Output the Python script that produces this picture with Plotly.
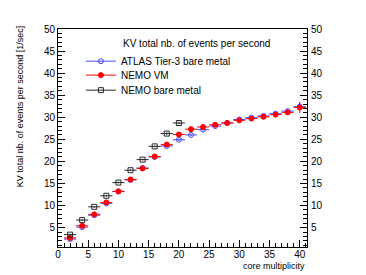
import plotly.graph_objects as go

x_atlas = [2, 4, 6, 8, 10, 12, 14, 16, 18, 20, 22, 24, 26, 28, 30, 32, 34, 36, 38, 40]
y_atlas = [2.4, 5.1, 7.8, 10.5, 13.2, 15.8, 18.5, 21.0, 23.5, 24.9, 26.0, 27.2, 28.0, 28.7, 29.5, 29.9, 30.3, 30.8, 31.4, 32.4]
ey_atlas = [0.2, 0.2, 0.2, 0.2, 0.2, 0.2, 0.2, 0.2, 0.3, 0.3, 0.3, 0.3, 0.3, 0.3, 0.3, 0.3, 0.4, 0.4, 0.5, 0.8]

x_vm = [2, 4, 6, 8, 10, 12, 14, 16, 18, 20, 22, 24, 26, 28, 30, 32, 34, 36, 38, 40]
y_vm = [2.65, 5.4, 8.0, 10.7, 13.2, 15.9, 18.4, 21.1, 23.8, 26.1, 27.3, 27.8, 28.3, 28.7, 29.3, 29.7, 30.1, 30.6, 31.1, 32.2]
ey_vm = [0.2, 0.2, 0.2, 0.2, 0.2, 0.2, 0.2, 0.2, 0.3, 0.3, 0.3, 0.3, 0.3, 0.3, 0.4, 0.4, 0.4, 0.5, 0.6, 1.3]

x_bare = [2, 4, 6, 8, 10, 12, 14, 16, 18, 20]
y_bare = [3.4, 6.7, 9.7, 12.2, 15.2, 18.0, 20.4, 23.4, 26.3, 28.7]
ey_bare = [0.2, 0.2, 0.2, 0.2, 0.2, 0.2, 0.2, 0.2, 0.3, 0.3]

bin_half_width = 1.0

names = ["ATLAS Tier-3 bare metal", "NEMO VM", "NEMO bare metal"]
legend_header = "KV total nb. of events per second"
x_title = "core multiplicity"
y_title = "KV total nb. of events per second [1/sec]"

BLUE = "rgb(70,70,255)"
RED = "rgb(255,0,0)"
BLACK = "rgb(40,40,40)"
FONT = "Liberation Sans, Arial, sans-serif"

series = [
    (x_atlas, y_atlas, ey_atlas, BLUE, "circle-open", 5, names[0]),
    (x_vm, y_vm, ey_vm, RED, "circle", 5, names[1]),
    (x_bare, y_bare, ey_bare, BLACK, "square-open", 5, names[2]),
]
legend_ids = ["legend", "legend2", "legend3"]
legend_tops = [0.919, 0.855, 0.786]

fig = go.Figure()
for xs, ys, eys, col, sym, sz, nm in series:
    fig.add_trace(go.Scatter(
        x=xs, y=ys, mode="markers", showlegend=False,
        marker=dict(symbol=sym, size=sz, color=col, line=dict(color=col, width=1)),
        error_x=dict(type="constant", value=bin_half_width, color=col, thickness=1, width=0),
        error_y=dict(type="data", array=eys, color=col, thickness=1, width=0),
    ))
for (xs, ys, eys, col, sym, sz, nm), lid in zip(series, legend_ids):
    fig.add_trace(go.Scatter(
        x=[None], y=[None], mode="lines+markers", name=nm, legend=lid,
        marker=dict(symbol=sym, size=sz, color=col, line=dict(color=col, width=1)),
        line=dict(color=col, width=1),
    ))

fig.add_trace(go.Scatter(x=[None], y=[None], yaxis="y2", showlegend=False))

yr = [0.6, 50]
xr = [0, 41.2]
tickfont = dict(family=FONT, size=10, color="black")

legends = {}
for lid, top in zip(legend_ids, legend_tops):
    legends[lid] = dict(
        x=0.092, y=top, xanchor="left", yanchor="top",
        bgcolor="rgba(0,0,0,0)", borderwidth=0, itemwidth=30,
        font=dict(family=FONT, size=10, color="black"),
    )

# page body has an 8px default margin, so the figure is drawn offset by (8, 8)
fig.update_layout(
    width=358, height=267,
    margin=dict(l=50, r=59, t=21, b=28, autoexpand=False),
    paper_bgcolor="white", plot_bgcolor="white",
    font=dict(family=FONT, size=10, color="black"),
    xaxis=dict(
        range=xr, showgrid=False, zeroline=False, automargin=False,
        showline=True, linecolor="black", linewidth=1, mirror=True,
        ticks="inside", ticklen=7, tickcolor="black", tickwidth=1,
        tick0=0, dtick=5, tickfont=tickfont, ticklabelstandoff=-2,
        minor=dict(ticks="inside", ticklen=4, dtick=1, tickcolor="black", showgrid=False),
    ),
    yaxis=dict(
        range=yr, showgrid=False, zeroline=False, automargin=False,
        showline=True, linecolor="black", linewidth=1, mirror=True,
        ticks="inside", ticklen=7, tickcolor="black", tickwidth=1,
        tick0=0, dtick=5, tickfont=tickfont,
        minor=dict(ticks="inside", ticklen=4, dtick=1, tickcolor="black", showgrid=False),
    ),
    yaxis2=dict(
        range=yr, overlaying="y", side="right", showgrid=False, zeroline=False,
        showline=False, automargin=False, ticklabelstandoff=3,
        ticks="inside", ticklen=7, tickcolor="black", tickwidth=1,
        tick0=0, dtick=5, tickfont=tickfont,
        minor=dict(ticks="inside", ticklen=4, dtick=1, tickcolor="black", showgrid=False),
    ),
    annotations=[
        dict(text=legend_header, xref="paper", yref="paper", x=0.253, y=0.934,
             xanchor="left", yanchor="middle", showarrow=False,
             font=dict(family=FONT, size=10, color="black")),
        dict(text=x_title, xref="paper", yref="paper", x=1.0, y=-0.086,
             xanchor="right", yanchor="middle", showarrow=False,
             font=dict(family=FONT, size=9, color="black")),
        dict(text=y_title, xref="paper", yref="paper", x=-0.1526, y=1.026,
             xanchor="center", yanchor="top", textangle=-90, showarrow=False,
             font=dict(family=FONT, size=9, color="black")),
    ],
    **legends,
)

fig.write_html("out.html")
